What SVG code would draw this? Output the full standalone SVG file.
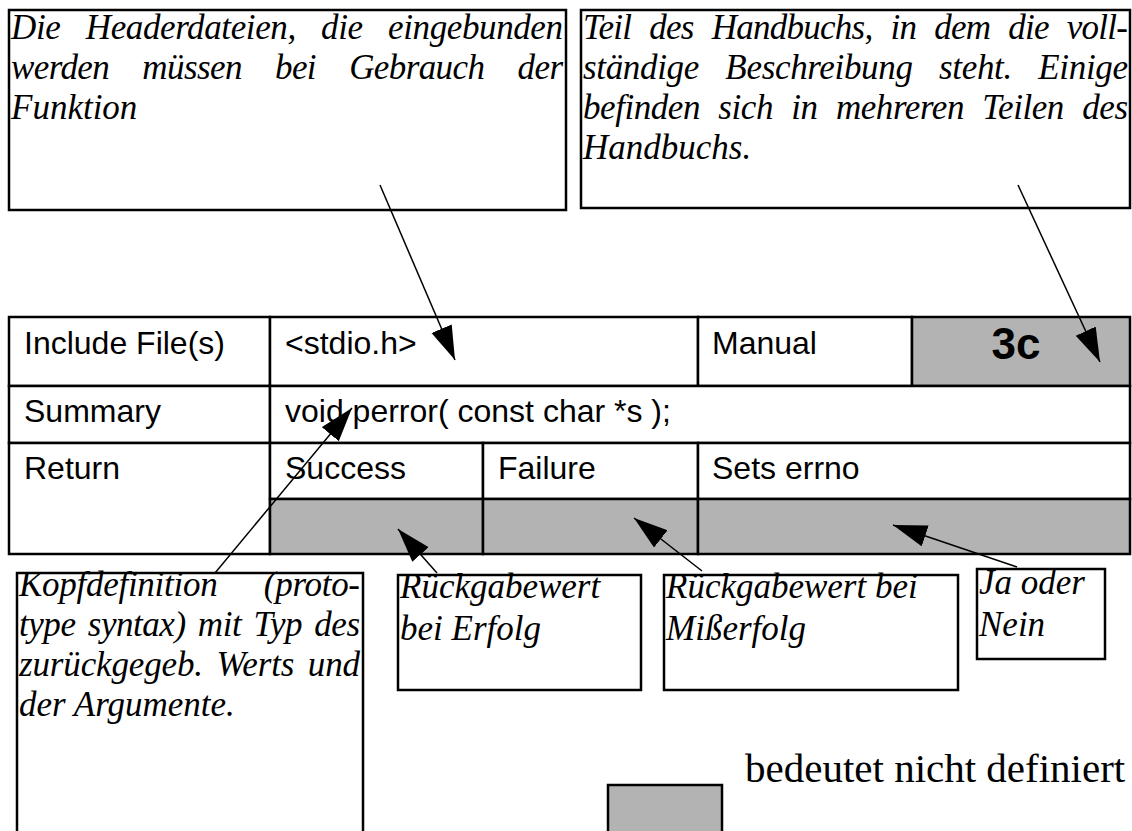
<svg xmlns="http://www.w3.org/2000/svg" width="1132" height="831" viewBox="0 0 1132 831">
  <style>
    .box { fill: #ffffff; stroke: #000000; stroke-width: 2.5; }
    .cell { fill: #ffffff; stroke: #000000; stroke-width: 2.5; }
    .undef { fill: #b3b3b3; stroke: #000000; stroke-width: 2.5; }
    .note { font-family: "Liberation Serif", "Times New Roman", serif; font-style: italic; font-size: 35px; fill: #000000; }
    .tbl { font-family: "Liberation Sans", Arial, sans-serif; font-size: 32px; fill: #000000; }
    .big { font-family: "Liberation Sans", Arial, sans-serif; font-size: 44px; font-weight: bold; fill: #000000; }
    .legend { font-family: "Liberation Serif", "Times New Roman", serif; font-size: 41px; fill: #000000; }
    .conn { stroke: #000000; stroke-width: 1.5; fill: none; marker-end: url(#head); }
  </style>
  <defs>
    <marker id="head" markerUnits="userSpaceOnUse" markerWidth="36" markerHeight="24" refX="34" refY="11" orient="auto">
      <path d="M0,0 L34,11 L0,22 Z" fill="#000000"/>
    </marker>
  </defs>

  <rect width="1132" height="831" fill="#ffffff"/>

  <!-- explanation of the header files -->
  <g id="note-include">
    <rect class="box" x="9" y="10" width="557" height="200"/>
    <text class="note" x="11" y="39" word-spacing="17" textLength="552" lengthAdjust="spacing">Die Headerdateien, die eingebunden</text>
    <text class="note" x="11" y="79" word-spacing="25" textLength="552" lengthAdjust="spacing">werden müssen bei Gebrauch der</text>
    <text class="note" x="11" y="119">Funktion</text>
  </g>

  <!-- explanation of the manual section -->
  <g id="note-manual">
    <rect class="box" x="581" y="10" width="549" height="198"/>
    <text class="note" x="583" y="39" word-spacing="10" textLength="545" lengthAdjust="spacing">Teil des Handbuchs, in dem die voll-</text>
    <text class="note" x="583" y="79" word-spacing="18" textLength="545" lengthAdjust="spacing">ständige Beschreibung steht. Einige</text>
    <text class="note" x="583" y="119" word-spacing="10" textLength="545" lengthAdjust="spacing">befinden sich in mehreren Teilen des</text>
    <text class="note" x="583" y="159">Handbuchs.</text>
  </g>

  <!-- the function summary table -->
  <g id="table">
    <rect class="cell" x="9" y="317" width="261" height="69"/>
    <rect class="cell" x="270" y="317" width="428" height="69"/>
    <rect class="cell" x="698" y="317" width="214" height="69"/>
    <rect class="undef" x="912" y="317" width="218" height="69"/>
    <rect class="cell" x="9" y="386" width="261" height="57"/>
    <rect class="cell" x="270" y="386" width="860" height="57"/>
    <rect class="cell" x="9" y="443" width="261" height="111"/>
    <rect class="cell" x="270" y="443" width="213" height="56"/>
    <rect class="cell" x="483" y="443" width="215" height="56"/>
    <rect class="cell" x="698" y="443" width="432" height="56"/>
    <rect class="undef" x="270" y="499" width="213" height="55"/>
    <rect class="undef" x="483" y="499" width="215" height="55"/>
    <rect class="undef" x="698" y="499" width="432" height="55"/>

    <text class="tbl" x="24" y="354">Include File(s)</text>
    <text class="tbl" x="285" y="354">&lt;stdio.h&gt;</text>
    <text class="tbl" x="712" y="354">Manual</text>
    <text class="big" x="1016" y="359" text-anchor="middle">3c</text>
    <text class="tbl" x="24" y="422">Summary</text>
    <text class="tbl" x="285" y="422">void perror( const char *s );</text>
    <text class="tbl" x="24" y="479">Return</text>
    <text class="tbl" x="285" y="479">Success</text>
    <text class="tbl" x="498" y="479">Failure</text>
    <text class="tbl" x="712" y="479">Sets errno</text>
  </g>

  <!-- explanation of the prototype -->
  <g id="note-prototype">
    <rect class="box" x="17" y="573" width="346" height="270"/>
    <text class="note" x="19" y="596" word-spacing="38" textLength="341" lengthAdjust="spacing">Kopfdefinition (proto-</text>
    <text class="note" x="19" y="636" word-spacing="4" textLength="341" lengthAdjust="spacing">type syntax) mit Typ des</text>
    <text class="note" x="19" y="676" word-spacing="5" textLength="341" lengthAdjust="spacing">zurückgegeb. Werts und</text>
    <text class="note" x="19" y="716">der Argumente.</text>
  </g>

  <g id="note-success">
    <rect class="box" x="398" y="575" width="243" height="115"/>
    <text class="note" x="400" y="598">Rückgabewert</text>
    <text class="note" x="400" y="640">bei Erfolg</text>
  </g>

  <g id="note-failure">
    <rect class="box" x="664" y="575" width="294" height="115"/>
    <text class="note" x="666" y="598">Rückgabewert bei</text>
    <text class="note" x="666" y="640">Mißerfolg</text>
  </g>

  <g id="note-errno">
    <rect class="box" x="977" y="569" width="128" height="90"/>
    <text class="note" x="979" y="594">Ja oder</text>
    <text class="note" x="979" y="636">Nein</text>
  </g>

  <!-- legend -->
  <g id="legend">
    <rect class="undef" x="608" y="785" width="114" height="60"/>
    <text class="legend" x="745" y="782">bedeutet nicht definiert</text>
  </g>

  <!-- pointers from the notes into the table -->
  <g id="connectors">
    <line class="conn" x1="380" y1="185" x2="455" y2="360"/>
    <line class="conn" x1="1018" y1="185" x2="1100" y2="362"/>
    <line class="conn" x1="215" y1="573" x2="352" y2="408"/>
    <line class="conn" x1="437" y1="573" x2="398" y2="529"/>
    <line class="conn" x1="702" y1="571" x2="634" y2="518"/>
    <line class="conn" x1="1017" y1="567" x2="893" y2="525"/>
  </g>
</svg>
